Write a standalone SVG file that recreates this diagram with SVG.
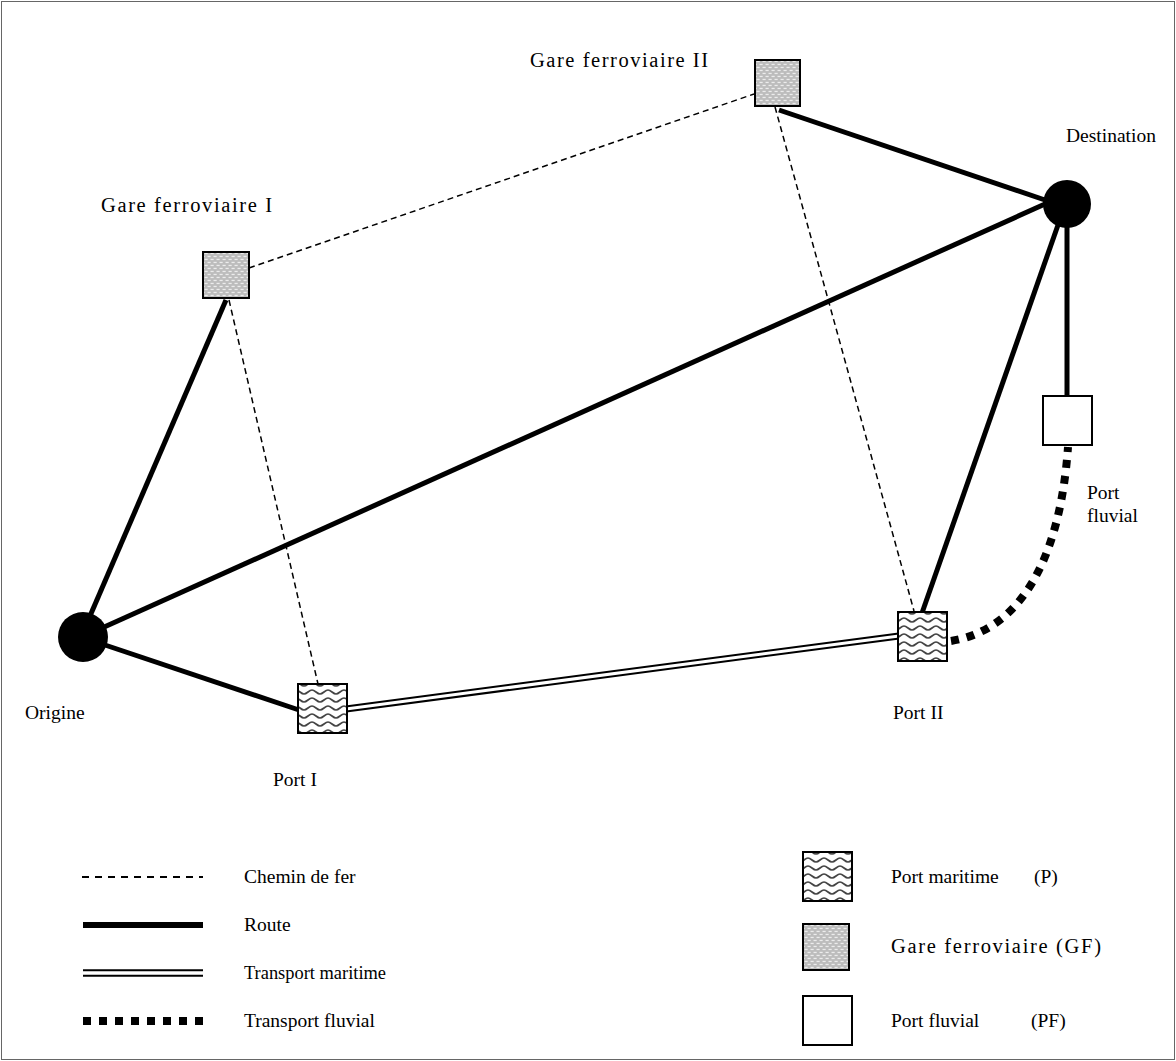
<svg xmlns="http://www.w3.org/2000/svg" width="1176" height="1061" viewBox="0 0 1176 1061">
<style>
text{font-family:"Liberation Serif","Times New Roman",serif;font-size:19.5px;fill:#000}
.gf{font-size:20.5px}
.rail{stroke:#000;stroke-width:1.5;stroke-dasharray:6 4;fill:none}
.route{stroke:#000;stroke-width:5;fill:none}
.seaO{stroke:#000;stroke-width:7;fill:none}
.seaI{stroke:#fff;stroke-width:3;fill:none}
.river{stroke:#000;stroke-width:8;stroke-dasharray:8 8;fill:none}
.box{stroke:#000;stroke-width:2}
</style>
<defs>
<pattern id="pGare" patternUnits="userSpaceOnUse" width="6" height="6">
<rect width="6" height="6" fill="#bcbcbc"/>
<rect x="0.5" y="0.8" width="3.2" height="1.3" fill="#ececec"/>
<rect x="3.5" y="3.8" width="3.2" height="1.3" fill="#ececec"/>
<rect x="-2.5" y="3.8" width="3.2" height="1.3" fill="#ececec"/>
</pattern>
<pattern id="pPort" patternUnits="userSpaceOnUse" width="16" height="8">
<rect width="16" height="8" fill="#fff"/>
<path d="M0,6 C3,6 5,2 8,2 C11,2 13,6 16,6" stroke="#444" stroke-width="1.7" fill="none"/>
</pattern>
</defs>
<rect x="1.5" y="1.5" width="1173" height="1058" fill="#fff" stroke="#666" stroke-width="1"/>
<g id="connectors">
<line class="rail" x1="249" y1="268" x2="754" y2="94"/>
<line class="rail" x1="229" y1="300" x2="318" y2="684"/>
<line class="rail" x1="775" y1="107" x2="914" y2="611"/>
<line class="route" x1="90" y1="616" x2="226" y2="300"/>
<line class="route" x1="102" y1="628" x2="1045" y2="204"/>
<line class="route" x1="105" y1="645" x2="299" y2="710"/>
<line class="route" x1="779" y1="110" x2="1045" y2="200"/>
<line class="route" x1="922" y1="613" x2="1058" y2="225"/>
<line class="route" x1="1067" y1="225" x2="1067" y2="397"/>
<line class="seaO" x1="346" y1="709" x2="899" y2="636"/>
<line class="seaI" x1="346" y1="709" x2="899" y2="636"/>
<path class="river" d="M951,641 C1020,630 1060,560 1068,447"/>
</g>
<g id="gare1"><rect class="box" x="203" y="252" width="46" height="46" fill="url(#pGare)"/><text class="gf" x="101" y="212" textLength="171" lengthAdjust="spacing">Gare ferroviaire I</text></g>
<g id="gare2"><rect class="box" x="755" y="60" width="45" height="46" fill="url(#pGare)"/><text class="gf" x="530" y="67" textLength="178" lengthAdjust="spacing">Gare ferroviaire II</text></g>
<g id="port1"><rect class="box" x="298" y="684" width="49" height="49" fill="url(#pPort)"/><text x="273" y="786">Port I</text></g>
<g id="port2"><rect class="box" x="898" y="612" width="49" height="49" fill="url(#pPort)"/><text x="893" y="719">Port II</text></g>
<g id="portfluvial"><rect class="box" x="1043" y="396" width="49" height="49" fill="#fff"/><text x="1087" y="499">Port</text><text x="1087" y="522">fluvial</text></g>
<g id="destination"><circle cx="1067" cy="204" r="24" fill="#000"/><text x="1066" y="142">Destination</text></g>
<g id="origine"><circle cx="83" cy="637" r="25" fill="#000"/><text x="25" y="719">Origine</text></g>
<g id="legend">
<line class="rail" x1="82" y1="877" x2="203" y2="877" style="stroke-width:2;stroke-dasharray:7 6"/>
<text x="244" y="883">Chemin de fer</text>
<line class="route" x1="83" y1="925" x2="203" y2="925" style="stroke-width:6"/>
<text x="244" y="931">Route</text>
<line class="seaO" x1="83" y1="973" x2="203" y2="973" style="stroke-width:7.5"/>
<line class="seaI" x1="83" y1="973" x2="203" y2="973" style="stroke-width:3.5"/>
<text x="244" y="979" textLength="142" lengthAdjust="spacingAndGlyphs">Transport maritime</text>
<line class="river" x1="83" y1="1021" x2="203" y2="1021"/>
<text x="244" y="1027">Transport fluvial</text>
<rect class="box" x="803" y="852" width="49" height="49" fill="url(#pPort)"/>
<text x="891" y="883">Port maritime<tspan x="1034">(P)</tspan></text>
<rect class="box" x="803" y="924" width="46" height="46" fill="url(#pGare)"/>
<text class="gf" x="891" y="953" textLength="210" lengthAdjust="spacing">Gare ferroviaire (GF)</text>
<rect class="box" x="803" y="996" width="49" height="49" fill="#fff"/>
<text x="891" y="1027">Port fluvial<tspan x="1031">(PF)</tspan></text>
</g>
</svg>
